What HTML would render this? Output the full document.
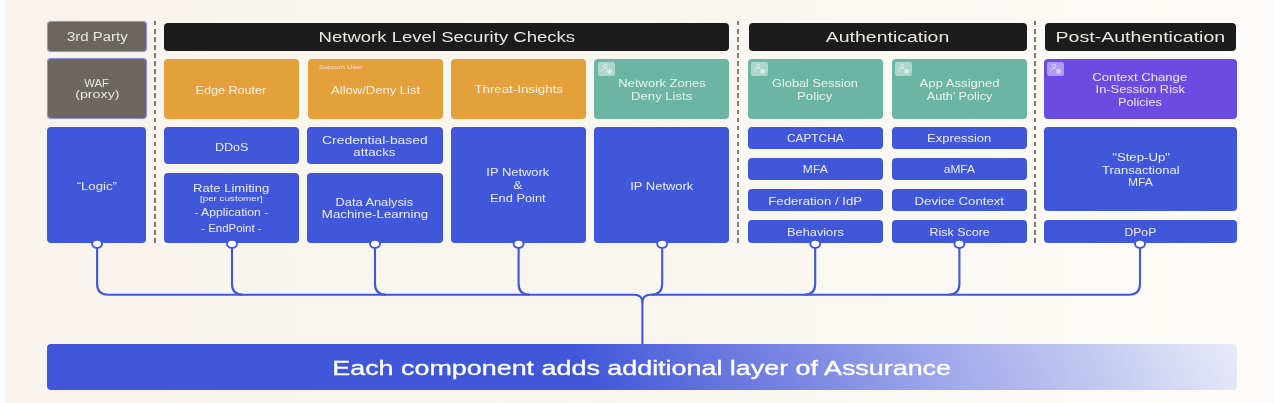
<!DOCTYPE html><html><head><meta charset="utf-8"><style>
html,body{margin:0;padding:0}
body{width:1280px;height:403px;background:#f6f2ec;position:relative;overflow:hidden;font-family:"Liberation Sans",sans-serif}
.x{position:absolute;box-sizing:border-box;border-radius:4px}
.t{position:absolute;width:600px;text-align:center;white-space:nowrap;line-height:20px;height:20px}
.t span{display:inline-block;transform-origin:50% 50%;will-change:transform}
.d{position:absolute;width:2px;background:repeating-linear-gradient(to bottom,#7f7b74 0 4.5px,transparent 4.5px 8.05px)}
</style></head><body>
<div style="position:absolute;left:5px;top:0;width:1270px;height:403px;background:linear-gradient(to right,#f8f4ed 0%,#f9f6f0 50%,#fcfbf7 100%)"></div>
<div style="position:absolute;left:0;top:0;width:5px;height:403px;background:#fefefe"></div>
<div style="position:absolute;left:1275px;top:0;width:5px;height:403px;background:#fefefe"></div>
<div class="x" style="left:46.7px;top:21.2px;width:100.5px;height:30.4px;background:#6b6760;border:1px solid #9293dc;box-shadow:0 0 0.8px #9a9be0;"></div>
<div class="x" style="left:164px;top:22.5px;width:565.0px;height:28.0px;background:#1c1c1c;"></div>
<div class="x" style="left:748.5px;top:22.5px;width:278.5px;height:28.0px;background:#1c1c1c;"></div>
<div class="x" style="left:1044.5px;top:22.5px;width:191.0px;height:28.0px;background:#1c1c1c;"></div>
<div class="x" style="left:46.7px;top:58.2px;width:100.5px;height:60.8px;background:#6b6760;border:1px solid #9293dc;box-shadow:0 0 0.8px #9a9be0;"></div>
<div class="x" style="left:164px;top:59px;width:134.6px;height:59.5px;background:#e3a03b;"></div>
<div class="x" style="left:307.5px;top:59px;width:135.5px;height:59.5px;background:#e3a03b;"></div>
<div class="x" style="left:450.8px;top:59px;width:135.5px;height:59.5px;background:#e3a03b;"></div>
<div class="x" style="left:593.8px;top:59px;width:135.5px;height:59.5px;background:#6bb5a2;"></div>
<div class="x" style="left:747.7px;top:59px;width:135.3px;height:59.5px;background:#6bb5a2;"></div>
<div class="x" style="left:891.8px;top:59px;width:135.4px;height:59.5px;background:#6bb5a2;"></div>
<div class="x" style="left:1043.5px;top:58.6px;width:193.5px;height:60.4px;background:#6c4be3;"></div>
<div class="x" style="left:47.4px;top:126.5px;width:99.1px;height:116.1px;background:#4157d9;"></div>
<div class="x" style="left:164.2px;top:126.5px;width:134.4px;height:37.8px;background:#4157d9;"></div>
<div class="x" style="left:164.2px;top:172.6px;width:134.4px;height:70.0px;background:#4157d9;"></div>
<div class="x" style="left:307.4px;top:126.5px;width:135.2px;height:37.8px;background:#4157d9;"></div>
<div class="x" style="left:307.4px;top:172.6px;width:135.2px;height:70.0px;background:#4157d9;"></div>
<div class="x" style="left:451px;top:126.5px;width:134.6px;height:116.1px;background:#4157d9;"></div>
<div class="x" style="left:594.3px;top:126.5px;width:134.7px;height:116.1px;background:#4157d9;"></div>
<div class="x" style="left:747.7px;top:126.5px;width:135.1px;height:22.3px;background:#4157d9;"></div>
<div class="x" style="left:891.6px;top:126.5px;width:135.0px;height:22.3px;background:#4157d9;"></div>
<div class="x" style="left:747.7px;top:157.7px;width:135.1px;height:22.7px;background:#4157d9;"></div>
<div class="x" style="left:891.6px;top:157.7px;width:135.0px;height:22.7px;background:#4157d9;"></div>
<div class="x" style="left:747.7px;top:189px;width:135.1px;height:22.3px;background:#4157d9;"></div>
<div class="x" style="left:891.6px;top:189px;width:135.0px;height:22.3px;background:#4157d9;"></div>
<div class="x" style="left:747.7px;top:220.2px;width:135.1px;height:22.4px;background:#4157d9;"></div>
<div class="x" style="left:891.6px;top:220.2px;width:135.0px;height:22.4px;background:#4157d9;"></div>
<div class="x" style="left:1044.2px;top:126.5px;width:192.8px;height:84.9px;background:#4157d9;"></div>
<div class="x" style="left:1044.2px;top:220.2px;width:192.8px;height:22.4px;background:#4157d9;"></div>
<div class="d" style="left:153.9px;top:21px;height:222.5px"></div>
<div class="d" style="left:737.2px;top:21px;height:222.5px"></div>
<div class="d" style="left:1034.4px;top:21px;height:222.5px"></div>
<svg style="position:absolute;left:597.5px;top:62px" width="17" height="14" viewBox="0 0 17 14"><rect x="0" y="0" width="17" height="14" rx="2" fill="#fff" fill-opacity="0.45"/><circle cx="7.1" cy="3.8" r="1.7" fill="none" stroke="#fff" stroke-opacity="0.6" stroke-width="0.8"/><path d="M3.2 9.6 Q4.2 6.3 7.2 6.2 Q8.6 6.2 9.6 7" fill="none" stroke="#fff" stroke-opacity="0.6" stroke-width="0.8"/><circle cx="11.5" cy="9.3" r="2.6" fill="#fff" fill-opacity="0.45"/><circle cx="11.5" cy="9.3" r="1.1" fill="#fff" fill-opacity="0.35"/></svg>
<svg style="position:absolute;left:751px;top:62px" width="17" height="14" viewBox="0 0 17 14"><rect x="0" y="0" width="17" height="14" rx="2" fill="#fff" fill-opacity="0.45"/><circle cx="7.1" cy="3.8" r="1.7" fill="none" stroke="#fff" stroke-opacity="0.6" stroke-width="0.8"/><path d="M3.2 9.6 Q4.2 6.3 7.2 6.2 Q8.6 6.2 9.6 7" fill="none" stroke="#fff" stroke-opacity="0.6" stroke-width="0.8"/><circle cx="11.5" cy="9.3" r="2.6" fill="#fff" fill-opacity="0.45"/><circle cx="11.5" cy="9.3" r="1.1" fill="#fff" fill-opacity="0.35"/></svg>
<svg style="position:absolute;left:895px;top:62px" width="17" height="14" viewBox="0 0 17 14"><rect x="0" y="0" width="17" height="14" rx="2" fill="#fff" fill-opacity="0.45"/><circle cx="7.1" cy="3.8" r="1.7" fill="none" stroke="#fff" stroke-opacity="0.6" stroke-width="0.8"/><path d="M3.2 9.6 Q4.2 6.3 7.2 6.2 Q8.6 6.2 9.6 7" fill="none" stroke="#fff" stroke-opacity="0.6" stroke-width="0.8"/><circle cx="11.5" cy="9.3" r="2.6" fill="#fff" fill-opacity="0.45"/><circle cx="11.5" cy="9.3" r="1.1" fill="#fff" fill-opacity="0.35"/></svg>
<svg style="position:absolute;left:1047.2px;top:62px" width="17" height="14" viewBox="0 0 17 14"><rect x="0" y="0" width="17" height="14" rx="2" fill="#fff" fill-opacity="0.45"/><circle cx="7.1" cy="3.8" r="1.7" fill="none" stroke="#fff" stroke-opacity="0.6" stroke-width="0.8"/><path d="M3.2 9.6 Q4.2 6.3 7.2 6.2 Q8.6 6.2 9.6 7" fill="none" stroke="#fff" stroke-opacity="0.6" stroke-width="0.8"/><circle cx="11.5" cy="9.3" r="2.6" fill="#fff" fill-opacity="0.45"/><circle cx="11.5" cy="9.3" r="1.1" fill="#fff" fill-opacity="0.35"/></svg>
<div style="position:absolute;left:318.6px;top:63.3px;font-size:6.2px;line-height:7px;color:rgba(255,246,230,0.78);white-space:nowrap"><span style="display:inline-block;transform-origin:0 50%;transform:scaleX(1.2)">Support User</span></div>
<div class="t" style="left:-203.0px;top:27.00px;font-size:12.5px;color:#e9e7e1"><span style="transform:scaleX(1.2000)">3rd Party</span></div>
<div class="t" style="left:146.5px;top:27.00px;font-size:15.3px;color:#e9e7e1"><span style="transform:scaleX(1.2119)">Network Level Security Checks</span></div>
<div class="t" style="left:587.9px;top:27.00px;font-size:15.3px;color:#e9e7e1"><span style="transform:scaleX(1.2740)">Authentication</span></div>
<div class="t" style="left:840.2px;top:27.00px;font-size:15.3px;color:#e9e7e1"><span style="transform:scaleX(1.2794)">Post-Authentication</span></div>
<div class="t" style="left:-203.3px;top:73.00px;font-size:10.5px;color:#e9e7e1"><span style="transform:scaleX(1.0696)">WAF</span></div>
<div class="t" style="left:-203.0px;top:84.00px;font-size:10.5px;color:#e9e7e1"><span style="transform:scaleX(1.3581)">(proxy)</span></div>
<div class="t" style="left:-68.9px;top:80.00px;font-size:11px;color:#fbf1e2"><span style="transform:scaleX(1.1443)">Edge Router</span></div>
<div class="t" style="left:75.5px;top:80.00px;font-size:11px;color:#fbf1e2"><span style="transform:scaleX(1.1853)">Allow/Deny List</span></div>
<div class="t" style="left:218.8px;top:79.00px;font-size:11px;color:#fbf1e2"><span style="transform:scaleX(1.2068)">Threat-Insights</span></div>
<div class="t" style="left:361.7px;top:73.00px;font-size:11px;color:#e8f3ef"><span style="transform:scaleX(1.1808)">Network Zones</span></div>
<div class="t" style="left:361.5px;top:86.00px;font-size:11px;color:#e8f3ef"><span style="transform:scaleX(1.1900)">Deny Lists</span></div>
<div class="t" style="left:515.2px;top:73.00px;font-size:11px;color:#e8f3ef"><span style="transform:scaleX(1.1616)">Global Session</span></div>
<div class="t" style="left:515.0px;top:86.00px;font-size:11px;color:#e8f3ef"><span style="transform:scaleX(1.2107)">Policy</span></div>
<div class="t" style="left:659.9px;top:73.00px;font-size:11px;color:#e8f3ef"><span style="transform:scaleX(1.1896)">App Assigned</span></div>
<div class="t" style="left:659.8px;top:86.00px;font-size:11px;color:#e8f3ef"><span style="transform:scaleX(1.1509)">Auth’ Policy</span></div>
<div class="t" style="left:839.9px;top:67.00px;font-size:11px;color:#ece6fb"><span style="transform:scaleX(1.1936)">Context Change</span></div>
<div class="t" style="left:839.8px;top:79.00px;font-size:11px;color:#ece6fb"><span style="transform:scaleX(1.1680)">In-Session Risk</span></div>
<div class="t" style="left:839.9px;top:92.00px;font-size:11px;color:#ece6fb"><span style="transform:scaleX(1.1568)">Policies</span></div>
<div class="t" style="left:-203.0px;top:176.00px;font-size:11px;color:#e9ecfa"><span style="transform:scaleX(1.2000)">“Logic”</span></div>
<div class="t" style="left:-68.4px;top:137.00px;font-size:11px;color:#e9ecfa"><span style="transform:scaleX(1.1393)">DDoS</span></div>
<div class="t" style="left:-68.5px;top:178.00px;font-size:11px;color:#e9ecfa"><span style="transform:scaleX(1.1857)">Rate Limiting</span></div>
<div class="t" style="left:-68.7px;top:189.00px;font-size:7px;color:#e9ecfa"><span style="transform:scaleX(1.4045)">[per customer]</span></div>
<div class="t" style="left:-68.6px;top:203.00px;font-size:10px;color:#e9ecfa"><span style="transform:scaleX(1.2217)">- Application -</span></div>
<div class="t" style="left:-68.6px;top:219.00px;font-size:10px;color:#e9ecfa"><span style="transform:scaleX(1.1415)">- EndPoint -</span></div>
<div class="t" style="left:74.8px;top:130.00px;font-size:11px;color:#e9ecfa"><span style="transform:scaleX(1.2598)">Credential-based</span></div>
<div class="t" style="left:74.7px;top:142.00px;font-size:11px;color:#e9ecfa"><span style="transform:scaleX(1.2086)">attacks</span></div>
<div class="t" style="left:74.7px;top:192.00px;font-size:11px;color:#e9ecfa"><span style="transform:scaleX(1.1636)">Data Analysis</span></div>
<div class="t" style="left:74.8px;top:204.00px;font-size:11px;color:#e9ecfa"><span style="transform:scaleX(1.2080)">Machine-Learning</span></div>
<div class="t" style="left:218.1px;top:162.00px;font-size:11px;color:#e9ecfa"><span style="transform:scaleX(1.1731)">IP Network</span></div>
<div class="t" style="left:218.1px;top:175.00px;font-size:11px;color:#e9ecfa"><span style="transform:scaleX(1.2286)">&amp;</span></div>
<div class="t" style="left:218.2px;top:188.00px;font-size:11px;color:#e9ecfa"><span style="transform:scaleX(1.1660)">End Point</span></div>
<div class="t" style="left:361.4px;top:176.00px;font-size:11px;color:#e9ecfa"><span style="transform:scaleX(1.1769)">IP Network</span></div>
<div class="t" style="left:515.0px;top:128.00px;font-size:11px;color:#e9ecfa"><span style="transform:scaleX(1.0769)">CAPTCHA</span></div>
<div class="t" style="left:515.1px;top:159.00px;font-size:11px;color:#e9ecfa"><span style="transform:scaleX(1.1000)">MFA</span></div>
<div class="t" style="left:515.3px;top:191.00px;font-size:11px;color:#e9ecfa"><span style="transform:scaleX(1.1974)">Federation / IdP</span></div>
<div class="t" style="left:515.2px;top:222.00px;font-size:11px;color:#e9ecfa"><span style="transform:scaleX(1.1604)">Behaviors</span></div>
<div class="t" style="left:659.5px;top:128.00px;font-size:11px;color:#e9ecfa"><span style="transform:scaleX(1.1792)">Expression</span></div>
<div class="t" style="left:659.4px;top:159.00px;font-size:11px;color:#e9ecfa"><span style="transform:scaleX(1.0793)">aMFA</span></div>
<div class="t" style="left:659.2px;top:191.00px;font-size:11px;color:#e9ecfa"><span style="transform:scaleX(1.1986)">Device Context</span></div>
<div class="t" style="left:659.2px;top:222.00px;font-size:11px;color:#e9ecfa"><span style="transform:scaleX(1.1327)">Risk Score</span></div>
<div class="t" style="left:840.7px;top:147.00px;font-size:11px;color:#e9ecfa"><span style="transform:scaleX(1.1979)">"Step-Up"</span></div>
<div class="t" style="left:840.8px;top:160.00px;font-size:11px;color:#e9ecfa"><span style="transform:scaleX(1.1815)">Transactional</span></div>
<div class="t" style="left:840.4px;top:172.00px;font-size:11px;color:#e9ecfa"><span style="transform:scaleX(1.0955)">MFA</span></div>
<div class="t" style="left:840.5px;top:222.00px;font-size:11px;color:#e9ecfa"><span style="transform:scaleX(1.1037)">DPoP</span></div>
<svg style="position:absolute;left:0;top:0" width="1280" height="403"><g fill="none" stroke="#4157d9" stroke-width="2.1"><path d="M97.1 246 V283.8 Q97.1 294.8 108.1 294.8"/><path d="M232 246 V283.8 Q232 294.8 243 294.8"/><path d="M375 246 V283.8 Q375 294.8 386 294.8"/><path d="M518.6 246 V283.8 Q518.6 294.8 529.6 294.8"/><path d="M662.2 246 V283.8 Q662.2 294.8 651.2 294.8"/><path d="M815.2 246 V283.8 Q815.2 294.8 804.2 294.8"/><path d="M959.4 246 V283.8 Q959.4 294.8 948.4 294.8"/><path d="M1140 246 V283.8 Q1140 294.8 1129 294.8"/><path d="M108.1 294.8 H634.4 Q642.4 294.8 642.4 302.8 V345"/><path d="M1129 294.8 H650.4 Q642.4 294.8 642.4 302.8"/></g><g fill="#fff" stroke="#4157d9" stroke-width="1.9"><ellipse cx="97.1" cy="243.8" rx="5" ry="4.1"/><ellipse cx="232" cy="243.8" rx="5" ry="4.1"/><ellipse cx="375" cy="243.8" rx="5" ry="4.1"/><ellipse cx="518.6" cy="243.8" rx="5" ry="4.1"/><ellipse cx="662.2" cy="243.8" rx="5" ry="4.1"/><ellipse cx="815.2" cy="243.8" rx="5" ry="4.1"/><ellipse cx="959.4" cy="243.8" rx="5" ry="4.1"/><ellipse cx="1140" cy="243.8" rx="5" ry="4.1"/></g></svg>
<div class="x" style="left:47px;top:343.8px;width:1190px;height:46.2px;border-radius:4px;background:linear-gradient(65deg,#4157d9 0%,#4157d9 45%,#6877df 57%,#97a1e9 72%,#c0c5f0 86%,#e8eaf8 100%)"></div>
<div class="t" style="left:342.1px;top:358.00px;font-size:21px;color:#ffffff;-webkit-text-stroke:0.35px #fff"><span style="transform:scaleX(1.2802)">Each component adds additional layer of Assurance</span></div>
</body></html>
